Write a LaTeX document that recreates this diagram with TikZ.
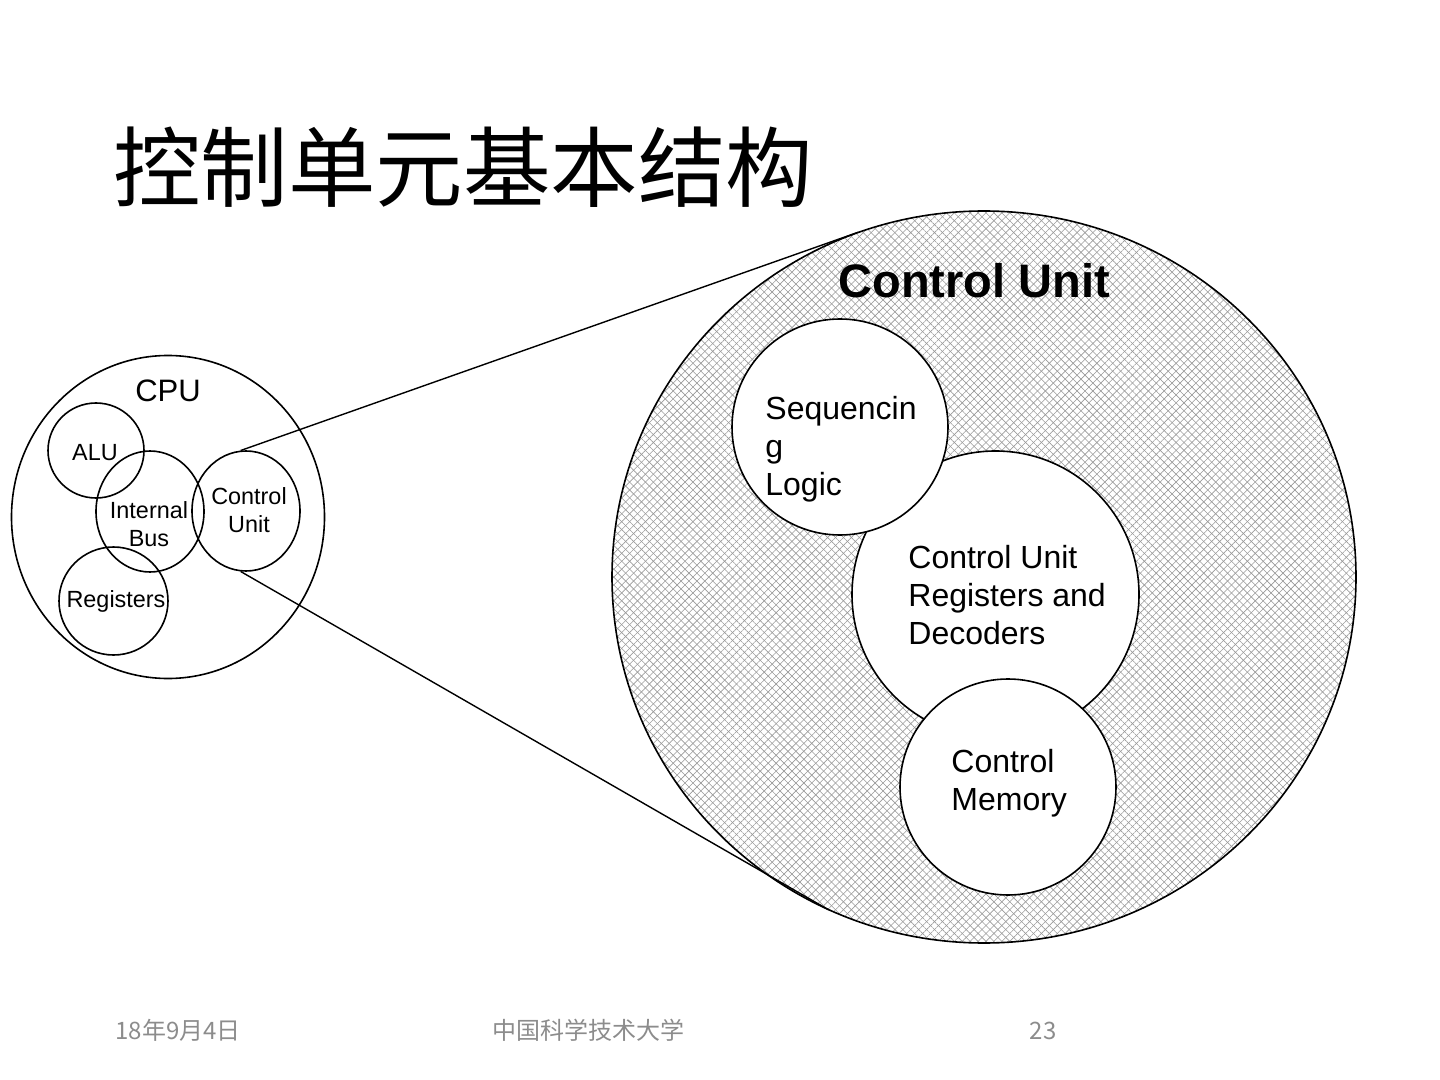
\documentclass[tikz,border=0pt]{standalone}
\usepackage{fontspec}
\setmainfont{Liberation Sans}
\newfontfamily\cjk{Noto Sans CJK SC}
\usetikzlibrary{shapes.geometric,patterns.meta}

\begin{document}
\begin{tikzpicture}[x=0.5pt,y=-0.5pt,
    part/.style={draw,ellipse,inner sep=0pt,line width=0.8pt},
    unit/.style={part,fill=white},
    txt/.style={inner sep=0pt,align=left,font=\fontsize{16pt}{19pt}\selectfont},
    small/.style={inner sep=0pt,align=center,font=\fontsize{11.7pt}{14pt}\selectfont},
    foot/.style={inner sep=0pt,text=black!45,font=\cjk\fontsize{12pt}{14pt}\selectfont}]
    \useasboundingbox (0,0) rectangle (1440,1080);
    \node[inner sep=0pt,anchor=west,font=\cjk\fontsize{43.75pt}{50pt}\selectfont] (title) at (113,167) {控制单元基本结构};
    % control unit, enlarged
    \node[part,minimum width=372pt,minimum height=366pt,
        preaction={pattern={Lines[angle=45,distance=2.8pt,line width=0.3pt]},pattern color=black!40},
        pattern={Lines[angle=-45,distance=2.8pt,line width=0.3pt]},pattern color=black!40] (ctrl) at (984,577) {};
    \node[inner sep=0pt,anchor=base west,font=\bfseries\fontsize{23.5pt}{28pt}\selectfont] (ctrltitle) at (838,298) {Control Unit};
    \node[unit,minimum width=143.5pt,minimum height=143.5pt] (curegs) at (995.5,594.5) {};
    \node[unit,minimum width=108pt,minimum height=108pt] (seqlogic) at (840,427) {};
    \node[unit,minimum width=108pt,minimum height=108pt] (cmem) at (1008,787) {};
    \node[txt,anchor=north west] (seqtxt) at (765,396) {Sequencin\\g\\Logic};
    \node[txt,anchor=north west] (curegstxt) at (908,545) {Control Unit\\Registers and\\Decoders};
    \node[txt,anchor=north west] (cmemtxt) at (951,749) {Control\\Memory};
    % cpu
    \node[part,minimum width=156.5pt,minimum height=161.5pt] (cpu) at (168,517) {};
    \node[part,minimum width=48pt,minimum height=47.5pt] (alu) at (96,450.5) {};
    \node[part,minimum width=54pt,minimum height=60.5pt] (ibus) at (150,511.5) {};
    \node[part,minimum width=54pt,minimum height=60pt] (cu) at (246,511) {};
    \node[part,minimum width=54.5pt,minimum height=54pt] (regs) at (113.5,601) {};
    \node[inner sep=0pt,font=\fontsize{15.5pt}{18pt}\selectfont] (cputxt) at (168,391) {CPU};
    \node[small] (alutxt) at (95,453) {ALU};
    \node[small] (ibustxt) at (149,524) {Internal\\Bus};
    \node[small] (cutxt) at (249,510) {Control\\Unit};
    \node[small] (regstxt) at (116,601) {Registers};
    % zoom lines
    \draw[line width=0.7pt] (cu.95) -- (ctrl.110);
    \draw[line width=0.7pt] (cu.-95) -- (ctrl.-115);
    % footer
    \node[foot,anchor=west] (date) at (115,1030) {18年9月4日};
    \node[foot] (school) at (588,1030) {中国科学技术大学};
    \node[foot] (page) at (1043,1031) {23};
\end{tikzpicture}
\end{document}
